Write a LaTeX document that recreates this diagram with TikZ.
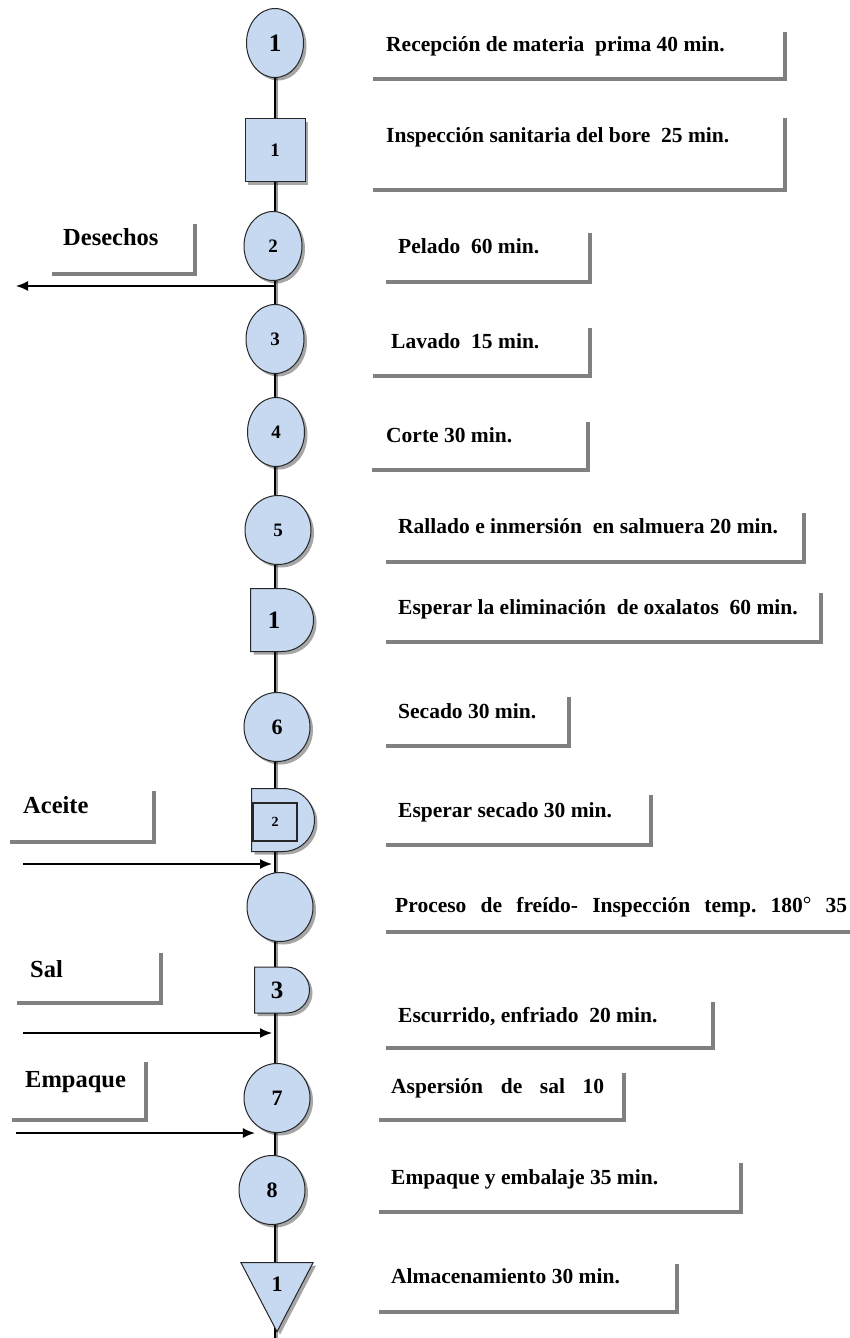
\documentclass[tikz,border=0pt]{standalone}
\usepackage{fontspec}
\setmainfont{Liberation Serif}
\usetikzlibrary{arrows.meta,positioning,shapes.geometric,shapes.misc,shadows,backgrounds}
\definecolor{azul}{RGB}{198,217,241}
\definecolor{grismarco}{RGB}{128,128,128}

\tikzset{
  forma/.style={draw=black!85, line width=1pt, fill=azul, inner sep=0pt,
    font=\fontsize{19}{19}\selectfont\bfseries},
  base/.style={forma, drop shadow={shadow xshift=3pt, shadow yshift=-3pt, fill=black, opacity=0.35}},
  oper/.style={base, ellipse, minimum width=#1, minimum height=69pt},
  oper/.default=66pt,
  insp/.style={base, rectangle, minimum width=60pt, minimum height=63pt},
  demora/.style={base, rounded rectangle, rounded rectangle west arc=none},
  almac/.style={base, isosceles triangle, shape border rotate=270,
    isosceles triangle stretches, minimum width=72pt, minimum height=69pt},
  numgr/.style={font=\fontsize{25}{25}\selectfont\bfseries},
  etiq/.style={anchor=west, inner sep=0pt, text height=14pt, text depth=4pt,
    font=\fontsize{21.5}{24}\selectfont\bfseries},
  entra/.style={etiq, font=\fontsize{24.5}{27}\selectfont\bfseries},
  marco/.style={draw=grismarco, line width=4pt},
  flecha/.style={-{Latex[length=12pt,width=10pt]}, line width=1.6pt},
  eje/.style={line width=2.8pt, preaction={draw=black!40, line width=2.6pt, transform canvas={xshift=2pt}}}
}

\begin{document}
\begin{tikzpicture}[x=1pt,y=-1pt]
  \useasboundingbox (0,0) rectangle (850,1338);

  \node[oper=57pt, numgr] (c1) at (275,43) {1};
  \node[insp] (s1) at (275,150) {1};
  \node[oper=58pt] (c2) at (273,246) {2};
  \node[oper=58pt] (c3) at (275,339) {3};
  \node[oper=57pt] (c4) at (276,432) {4};
  \node[oper] (c5) at (278,530) {5};
  \node[demora, minimum width=61pt, minimum height=63pt,
    label={[numgr, xshift=-8pt]center:1}] (d1) at (282,620) {};
  \node[oper, font=\fontsize{22}{22}\selectfont\bfseries] (c6) at (277,727) {6};
  \node[demora, minimum width=63pt, minimum height=63pt] (d2) at (283,820) {};
  \node[forma, line width=1.8pt, minimum width=44pt, minimum height=38pt,
    font=\fontsize{14}{14}\selectfont\bfseries] (r2) at (275,822) {2};
  \node[oper] (c9) at (280,907) {};
  \node[demora, minimum width=55pt, minimum height=46pt,
    label={[numgr, xshift=-5pt]center:3}] (d3) at (282,990) {};
  \node[oper, font=\fontsize{22}{22}\selectfont\bfseries] (c7) at (277,1098) {7};
  \node[oper, font=\fontsize{22}{22}\selectfont\bfseries] (c8) at (272,1190) {8};
  \node[almac, anchor=apex, font=\fontsize{22}{22}\selectfont\bfseries] (a1) at (277,1333) {1};

  \coordinate (fin) at (275,1338);
  \begin{scope}[on background layer]
    \draw[eje] (c1) -- (fin);
  \end{scope}

  \coordinate (des) at (16,286);
  \coordinate (ace) at (23,864);
  \coordinate (sal) at (23,1033);
  \coordinate (emp) at (16,1133);
  \draw[flecha] (des -| c1) -- (des);
  \draw[flecha, shorten >=3pt] (ace) -- (ace -| c1);
  \draw[flecha, shorten >=3pt] (sal) -- (sal -| c1);
  \draw[flecha] (emp) -- (emp -| c7.230);

  \foreach \xa/\yb/\xb/\yt in {373/79/785/32, 373/190/785/118, 386/282/590/233,
      373/376/590/328, 372/470/588/422, 386/562/804/513, 386/642/821/593,
      386/746/569/697, 386/845/651/795, 386/1048/713/1002, 379/1120/624/1073,
      379/1212/741/1163, 379/1312/677/1264, 52/274/195/224, 10/842/154/791,
      17/1003/161/953, 12/1120/146/1062}{
    \draw[marco] (\xa,\yb) -| (\xb,\yt);
  }
  \draw[marco] (386,932) -- (860,932);

  \node[etiq] (t1) at (386,47) {Recepción de materia\ \ prima 40 min.};
  \node[etiq] (t2) at (386,137) {Inspección sanitaria del bore\ \ 25 min.};
  \node[etiq] (t3) at (398,248) {Pelado\ \ 60 min.};
  \node[etiq] (t4) at (391,343) {Lavado\ \ 15 min.};
  \node[etiq] (t5) at (386,437) {Corte 30 min.};
  \node[etiq] (t6) at (398,528) {Rallado e inmersión\ \ en salmuera 20 min.};
  \node[etiq] (t7) at (398,609) {Esperar la eliminación\ \ de oxalatos\ \ 60 min.};
  \node[etiq] (t8) at (398,713) {Secado 30 min.};
  \node[etiq] (t9) at (398,812) {Esperar secado 30 min.};
  \node[etiq] (t10) at (395,907) {\makebox[452pt][s]{Proceso de freído- Inspección temp.\ 180{\mdseries\raisebox{1pt}{°}} 35}};
  \node[etiq] (t11) at (398,1017) {Escurrido, enfriado\ \ 20 min.};
  \node[etiq] (t12) at (391,1088) {\makebox[213pt][s]{Aspersión de sal 10}};
  \node[etiq] (t13) at (391,1179) {Empaque y embalaje 35 min.};
  \node[etiq] (t14) at (391,1278) {Almacenamiento 30 min.};
  \node[entra] (l1) at (63,240) {Desechos};
  \node[entra] (l2) at (23,808) {Aceite};
  \node[entra] (l3) at (30,972) {Sal};
  \node[entra] (l4) at (25,1082) {Empaque};
\end{tikzpicture}
\end{document}
